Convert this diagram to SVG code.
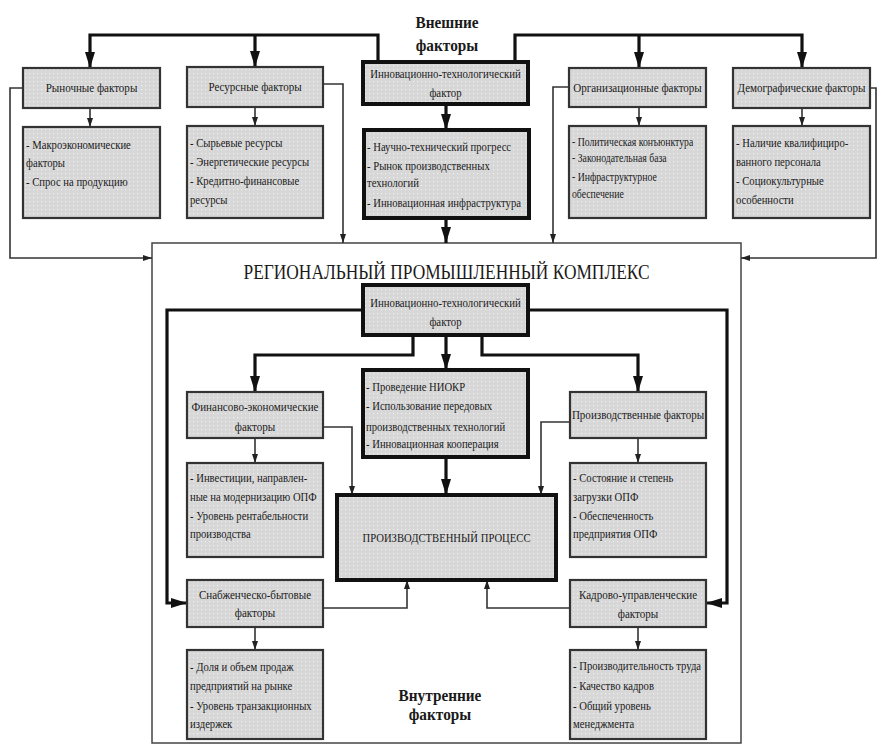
<svg xmlns="http://www.w3.org/2000/svg" width="878" height="746" viewBox="0 0 878 746">
<style>
.t{font-family:'Liberation Serif','DejaVu Serif',serif;font-size:13px;fill:#1a1a1a}
.c{text-anchor:middle}
.h{font-family:'Liberation Serif','DejaVu Serif',serif;font-size:17px;font-weight:bold;fill:#1a1a1a;text-anchor:middle}
.b{fill:url(#dots);stroke:#333;stroke-width:2.2}
.bt{fill:url(#dots);stroke:#111;stroke-width:4}
.lk{fill:none;stroke:#111;stroke-width:3.2}
.ln{fill:none;stroke:#333;stroke-width:1.6}
</style>
<defs>
<pattern id="dots" width="4" height="4" patternUnits="userSpaceOnUse">
<rect width="4" height="4" fill="#d7d7d7"/>
<rect x="1" y="1" width="1.2" height="1.2" fill="#eeeeee"/>
</pattern>
<marker id="ab" viewBox="0 0 16 10" markerWidth="16" markerHeight="10" refX="16" refY="5" orient="auto" markerUnits="userSpaceOnUse">
<path d="M0,0 L16,5 L0,10 z" fill="#111"/>
</marker>
<marker id="as" viewBox="0 0 9 6" markerWidth="9" markerHeight="6" refX="9" refY="3" orient="auto" markerUnits="userSpaceOnUse">
<path d="M0,0 L9,3 L0,6 z" fill="#222"/>
</marker>
</defs>
<rect width="878" height="746" fill="#fff"/>

<g id="main-complex">
<rect x="152" y="243" width="589" height="500" fill="#fff" stroke="#444" stroke-width="1.5"/>
<text class="t c" x="446.5" y="279" style="font-size:22px" textLength="406" lengthAdjust="spacingAndGlyphs">РЕГИОНАЛЬНЫЙ ПРОМЫШЛЕННЫЙ КОМПЛЕКС</text>
</g>

<g id="label-external">
<text class="h" transform="translate(447,28) scale(.9,1)">Внешние</text>
<text class="h" transform="translate(447,51) scale(.9,1)">факторы</text>
</g>
<g id="label-internal">
<text class="h" transform="translate(440,701) scale(.9,1)">Внутренние</text>
<text class="h" transform="translate(440,720) scale(.9,1)">факторы</text>
</g>

<g id="connectors">
<polyline class="lk" points="378,62 378,35 90,35 90,68" marker-end="url(#ab)"/>
<polyline class="lk" points="255,35 255,67" marker-end="url(#ab)"/>
<polyline class="lk" points="515,62 515,35 802,35 802,68" marker-end="url(#ab)"/>
<polyline class="lk" points="639,35 639,68" marker-end="url(#ab)"/>
<polyline class="lk" points="446,104 446,130" marker-end="url(#ab)"/>
<polyline class="lk" points="446,218 446,243" marker-end="url(#ab)"/>
<polyline class="ln" points="90,108 90,127" marker-end="url(#as)"/>
<polyline class="ln" points="255,107 255,126" marker-end="url(#as)"/>
<polyline class="ln" points="639,107 639,126" marker-end="url(#as)"/>
<polyline class="ln" points="802,108 802,126" marker-end="url(#as)"/>
<polyline class="ln" points="23,88 10,88 10,258 152,258" marker-end="url(#as)"/>
<polyline class="ln" points="323,84 343,84 343,243" marker-end="url(#as)"/>
<polyline class="ln" points="569,87 553,87 553,243" marker-end="url(#as)"/>
<polyline class="ln" points="870,88 876,88 876,258 741,258" marker-end="url(#as)"/>

<polyline class="lk" points="363,310 167,310 167,603 187,603" marker-end="url(#ab)"/>
<polyline class="lk" points="528,310 727,310 727,603 706,603" marker-end="url(#ab)"/>
<polyline class="lk" points="413,335 413,355 255,355 255,392" marker-end="url(#ab)"/>
<polyline class="lk" points="446,335 446,370" marker-end="url(#ab)"/>
<polyline class="lk" points="482,335 482,355 638,355 638,392" marker-end="url(#ab)"/>
<polyline class="ln" points="255,438 255,463" marker-end="url(#as)"/>
<polyline class="ln" points="638,438 638,463" marker-end="url(#as)"/>
<polyline class="ln" points="323,427 352,427 352,495" marker-end="url(#as)"/>
<polyline class="ln" points="570,422 541,422 541,495" marker-end="url(#as)"/>
<polyline class="lk" points="446,457 446,495" marker-end="url(#ab)"/>
<polyline class="ln" points="323,608 407,608 407,580" marker-end="url(#as)"/>
<polyline class="ln" points="570,608 487,608 487,580" marker-end="url(#as)"/>
<polyline class="ln" points="255,627 255,650" marker-end="url(#as)"/>
<polyline class="ln" points="638,627 638,650" marker-end="url(#as)"/>
</g>

<g id="n-market">
<rect class="b" x="23" y="68" width="137" height="40"/>
<text class="t c" transform="translate(91.5,92) scale(.85,1)">Рыночные факторы</text>
</g>
<g id="n-market-d">
<rect class="b" x="23" y="127" width="137" height="91"/>
<text class="t" transform="translate(26,149) scale(.82,1)">- Макроэкономические</text>
<text class="t" transform="translate(26,167) scale(.82,1)">факторы</text>
<text class="t" transform="translate(26,186) scale(.82,1)">- Спрос на продукцию</text>
</g>
<g id="n-resource">
<rect class="b" x="187" y="67" width="136" height="40"/>
<text class="t c" transform="translate(255,91) scale(.85,1)">Ресурсные факторы</text>
</g>
<g id="n-resource-d">
<rect class="b" x="187" y="126" width="136" height="92"/>
<text class="t" transform="translate(190,147) scale(.82,1)">- Сырьевые ресурсы</text>
<text class="t" transform="translate(190,166) scale(.82,1)">- Энергетические ресурсы</text>
<text class="t" transform="translate(190,185) scale(.82,1)">- Кредитно-финансовые</text>
<text class="t" transform="translate(190,204) scale(.82,1)">ресурсы</text>
</g>
<g id="n-innov">
<rect class="bt" x="363" y="62" width="165" height="42"/>
<text class="t c" transform="translate(445.5,78) scale(.83,1)">Инновационно-технологический</text>
<text class="t c" transform="translate(445.5,97) scale(.83,1)">фактор</text>
</g>
<g id="n-innov-d">
<rect class="bt" x="364" y="130" width="165" height="88"/>
<text class="t" transform="translate(367,151) scale(.82,1)">- Научно-технический прогресс</text>
<text class="t" transform="translate(367,170) scale(.82,1)">- Рынок производственных</text>
<text class="t" transform="translate(367,187) scale(.82,1)">технологий</text>
<text class="t" transform="translate(367,207) scale(.82,1)">- Инновационная инфраструктура</text>
</g>
<g id="n-org">
<rect class="b" x="569" y="68" width="137" height="39"/>
<text class="t c" transform="translate(637.5,92) scale(.85,1)">Организационные факторы</text>
</g>
<g id="n-org-d">
<rect class="b" x="569" y="126" width="137" height="92"/>
<text class="t" transform="translate(572,146) scale(.75,1)">- Политическая конъюнктура</text>
<text class="t" transform="translate(572,162) scale(.75,1)">- Законодательная база</text>
<text class="t" transform="translate(572,181) scale(.75,1)">- Инфраструктурное</text>
<text class="t" transform="translate(572,198) scale(.75,1)">обеспечение</text>
</g>
<g id="n-demo">
<rect class="b" x="733" y="68" width="137" height="40"/>
<text class="t c" transform="translate(801.5,92) scale(.85,1)">Демографические факторы</text>
</g>
<g id="n-demo-d">
<rect class="b" x="733" y="126" width="137" height="92"/>
<text class="t" transform="translate(736,147) scale(.82,1)">- Наличие квалифициро-</text>
<text class="t" transform="translate(736,166) scale(.82,1)">ванного персонала</text>
<text class="t" transform="translate(736,185) scale(.82,1)">- Социокультурные</text>
<text class="t" transform="translate(736,204) scale(.82,1)">особенности</text>
</g>

<g id="n-innov-inner">
<rect class="bt" x="363" y="285" width="165" height="50"/>
<text class="t c" transform="translate(445.5,307) scale(.83,1)">Инновационно-технологический</text>
<text class="t c" transform="translate(445.5,326) scale(.83,1)">фактор</text>
</g>
<g id="n-fin">
<rect class="b" x="187" y="392" width="136" height="46"/>
<text class="t c" transform="translate(255,411) scale(.85,1)">Финансово-экономические</text>
<text class="t c" transform="translate(255,431) scale(.85,1)">факторы</text>
</g>
<g id="n-rnd">
<rect class="bt" x="363" y="370" width="165" height="87"/>
<text class="t" transform="translate(366,391) scale(.82,1)">- Проведение НИОКР</text>
<text class="t" transform="translate(366,410) scale(.82,1)">- Использование передовых</text>
<text class="t" transform="translate(366,431) scale(.82,1)">производственных технологий</text>
<text class="t" transform="translate(366,448) scale(.82,1)">- Инновационная кооперация</text>
</g>
<g id="n-prod">
<rect class="b" x="570" y="392" width="136" height="46"/>
<text class="t c" transform="translate(638,419) scale(.85,1)">Производственные факторы</text>
</g>
<g id="n-fin-d">
<rect class="b" x="187" y="463" width="136" height="94"/>
<text class="t" transform="translate(190,482) scale(.82,1)">- Инвестиции, направлен-</text>
<text class="t" transform="translate(190,501) scale(.82,1)">ные на модернизацию ОПФ</text>
<text class="t" transform="translate(190,520) scale(.82,1)">- Уровень рентабельности</text>
<text class="t" transform="translate(190,538) scale(.82,1)">производства</text>
</g>
<g id="n-prod-d">
<rect class="b" x="570" y="463" width="136" height="94"/>
<text class="t" transform="translate(573,482) scale(.82,1)">- Состояние и степень</text>
<text class="t" transform="translate(573,501) scale(.82,1)">загрузки ОПФ</text>
<text class="t" transform="translate(573,520) scale(.82,1)">- Обеспеченность</text>
<text class="t" transform="translate(573,538) scale(.82,1)">предприятия ОПФ</text>
</g>
<g id="n-process">
<rect class="bt" x="337" y="495" width="219" height="85"/>
<text class="t c" transform="translate(446.5,542) scale(.82,1)">ПРОИЗВОДСТВЕННЫЙ ПРОЦЕСС</text>
</g>
<g id="n-supply">
<rect class="b" x="187" y="580" width="136" height="47"/>
<text class="t c" transform="translate(255,599) scale(.85,1)">Снабженческо-бытовые</text>
<text class="t c" transform="translate(255,617) scale(.85,1)">факторы</text>
</g>
<g id="n-hr">
<rect class="b" x="570" y="580" width="136" height="47"/>
<text class="t c" transform="translate(638,599) scale(.85,1)">Кадрово-управленческие</text>
<text class="t c" transform="translate(638,618) scale(.85,1)">факторы</text>
</g>
<g id="n-supply-d">
<rect class="b" x="187" y="650" width="136" height="89"/>
<text class="t" transform="translate(190,671) scale(.82,1)">- Доля и объем продаж</text>
<text class="t" transform="translate(190,690) scale(.82,1)">предприятий на рынке</text>
<text class="t" transform="translate(190,710) scale(.82,1)">- Уровень транзакционных</text>
<text class="t" transform="translate(190,728) scale(.82,1)">издержек</text>
</g>
<g id="n-hr-d">
<rect class="b" x="570" y="650" width="136" height="89"/>
<text class="t" transform="translate(573,670) scale(.82,1)">- Производительность труда</text>
<text class="t" transform="translate(573,690) scale(.82,1)">- Качество кадров</text>
<text class="t" transform="translate(573,710) scale(.82,1)">- Общий уровень</text>
<text class="t" transform="translate(573,728) scale(.82,1)">менеджмента</text>
</g>
</svg>
